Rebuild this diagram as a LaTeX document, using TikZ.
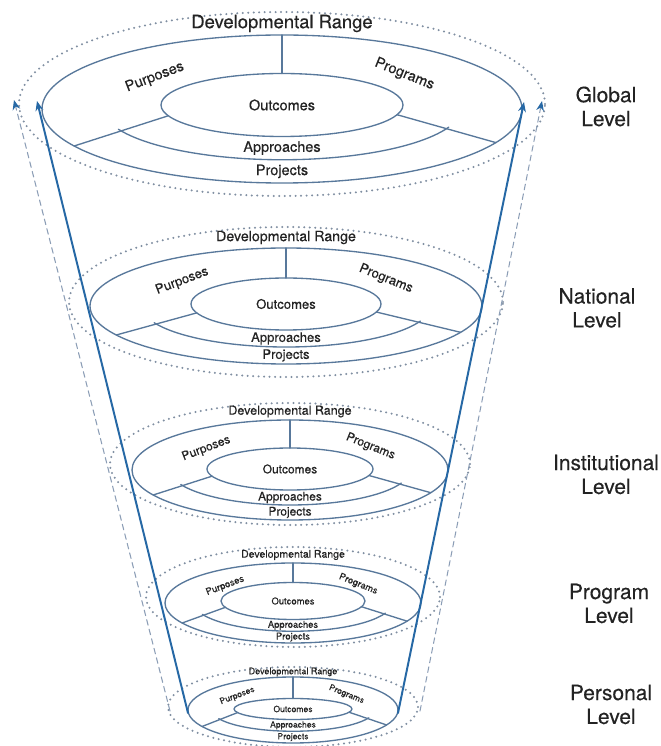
\documentclass[tikz,border=0pt]{standalone}
\usepackage{fontspec}
\setmainfont{TeX Gyre Heros}[FakeBold=0.3]
\usetikzlibrary{arrows.meta,calc}
\definecolor{ringline}{RGB}{88,120,155}
\definecolor{rangedot}{RGB}{128,143,162}
\definecolor{coneblue}{RGB}{38,104,165}
\definecolor{conedash}{RGB}{140,158,182}
\definecolor{labeltext}{RGB}{35,35,35}
\begin{document}
\begin{tikzpicture}[x=0.025cm, y=0.025cm, line join=round, line cap=round,
    >={Stealth[length=7pt,width=5.5pt,color=coneblue]},
    ring/.style={draw=ringline, line width=0.95pt},
    rangeline/.style={draw=rangedot, line width=1.6pt, dash pattern=on 0pt off 3.9pt},
    cone/.style={draw=coneblue, line width=1.4pt},
    conedashed/.style={draw=conedash, line width=0.75pt, dash pattern=on 4pt off 3pt},
    ringtext/.style={inner sep=0pt, text=labeltext},
    levellabel/.style={align=center, inner sep=0pt, text=labeltext, font=\fontsize{14.9}{17}\selectfont}]
    \path[use as bounding box, fill=white] (0,0) rectangle (661,746);
    \foreach \cx/\cy/\rx/\ry/\ix/\iy/\icy/\dx/\dy/\dcy/\dfs/\lfs [count=\i] in {
        282/109/240/74/121/31.5/105/263/92/104/13.1/10.3,
        286/306/196/58/95/26/304/217/75/302/10.1/9.3,
        290/470/158/50/83/21/469/180/61/464/8.9/8.5,
        293/603/128/40/72/18.5/601/147/50/597/7.5/6.7,
        293/710/105/33/59/10.5/709/125/40/707/6.4/6.1}{
        \pgfmathsetmacro\mx{(\ix+\rx)/2}
        \pgfmathsetmacro\my{(\iy+\ry)/2}
        \pgfmathsetmacro\mb{(\cy+\icy)/2+\my}
        \coordinate (c\i) at (\cx,{746-\cy});
        \coordinate (ic\i) at (\cx,{746-\icy});
        \coordinate (mc\i) at (\cx,{746-(\cy+\icy)/2});
        \coordinate (dc\i) at (\cx,{746-\dcy});
        \draw[rangeline] (dc\i) ellipse[x radius=\dx, y radius=\dy];
        \draw[ring] (c\i) ellipse[x radius=\rx, y radius=\ry];
        \draw[ring] (ic\i) ellipse[x radius=\ix, y radius=\iy];
        \draw[ring] ($(c\i)+(0,\ry)$) -- ($(ic\i)+(0,\iy)$);
        \draw[ring] ($(ic\i)+(200:{\ix} and {\iy})$) -- ($(c\i)+(210:{\rx} and {\ry})$);
        \draw[ring] ($(ic\i)+(342:{\ix} and {\iy})$) -- ($(c\i)+(333:{\rx} and {\ry})$);
        \draw[ring] ($(mc\i)+(205:{\mx} and {\my})$) arc[start angle=205, end angle=337.5, x radius=\mx, y radius=\my];
        \node[ringtext, font=\fontsize{\dfs}{\dfs}\selectfont] (dev\i) at (\cx,{746-((\dcy-\dy)+(\cy-\ry))/2}) {Developmental Range};
        \node[ringtext, font=\fontsize{\lfs}{\lfs}\selectfont, rotate=21] (pur\i) at ({\cx-0.53*\rx},{746-\cy+0.43*\ry}) {Purposes};
        \node[ringtext, font=\fontsize{\lfs}{\lfs}\selectfont, rotate=-22] (prg\i) at ({\cx+0.51*\rx},{746-\cy+0.47*\ry}) {Programs};
        \node[ringtext, font=\fontsize{\lfs}{\lfs}\selectfont] (out\i) at (ic\i) {Outcomes};
        \node[ringtext, font=\fontsize{\lfs}{\lfs}\selectfont] (app\i) at (\cx,{746-(\icy+\iy+\mb)/2}) {Approaches};
        \node[ringtext, font=\fontsize{\lfs}{\lfs}\selectfont] (prj\i) at (\cx,{746-(\mb+\cy+\ry)/2}) {Projects};
    }
    \foreach \name/\lx/\ly [count=\i] in {Global/606/106.5, National/597/308, Institutional/606/474.5, Program/609/603.5, Personal/611/704.5}
        \node[levellabel] (lvl\i) at (\lx,{746-\ly}) {\name\\Level};
    \coordinate (ldbot) at (170,35);
    \coordinate (ldtop) at (14,646);
    \coordinate (rdbot) at (420,35);
    \coordinate (rdtop) at (542,645);
    \coordinate (lbot) at (188,33);
    \coordinate (ltop) at (37,645);
    \coordinate (rbot) at (398,33);
    \coordinate (rtop) at (524,644);
    \draw[conedashed,->] (ldbot) -- (ldtop);
    \draw[conedashed,->] (rdbot) -- (rdtop);
    \draw[cone,->] (lbot) -- (ltop);
    \draw[cone,->] (rbot) -- (rtop);
\end{tikzpicture}
\end{document}
